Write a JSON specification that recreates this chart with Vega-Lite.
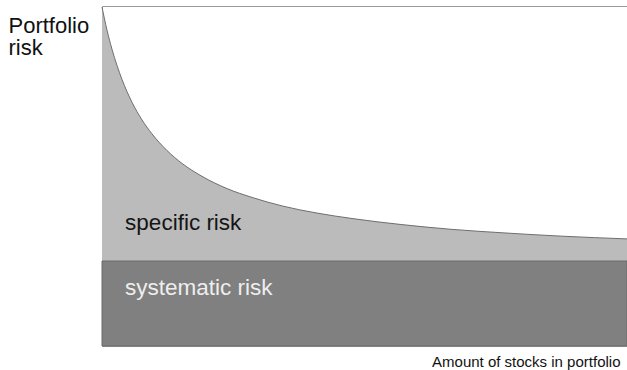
{
  "$schema": "https://vega.github.io/schema/vega-lite/v6.json",
  "width": 525,
  "height": 340,
  "autosize": {"type": "none"},
  "padding": {"left": 102, "top": 6, "right": 0, "bottom": 24},
  "background": "white",
  "config": {
    "view": {"stroke": "#9a9a9a", "strokeWidth": 1},
    "font": "Liberation Sans"
  },
  "datasets": {
    "curve": [
      {"n": 0, "risk": 99.7},
      {"n": 0.95, "risk": 92.9},
      {"n": 1.9, "risk": 87.3},
      {"n": 2.86, "risk": 82.5},
      {"n": 3.81, "risk": 78.4},
      {"n": 5.71, "risk": 71.7},
      {"n": 7.62, "risk": 66.5},
      {"n": 9.52, "risk": 62.4},
      {"n": 12.38, "risk": 57.5},
      {"n": 15.24, "risk": 53.7},
      {"n": 19.05, "risk": 49.9},
      {"n": 23.81, "risk": 46.3},
      {"n": 28.57, "risk": 43.7},
      {"n": 34.29, "risk": 41.2},
      {"n": 40.95, "risk": 39.1},
      {"n": 47.62, "risk": 37.5},
      {"n": 57.14, "risk": 35.7},
      {"n": 66.67, "risk": 34.3},
      {"n": 76.19, "risk": 33.3},
      {"n": 87.62, "risk": 32.3},
      {"n": 100, "risk": 31.5}
    ],
    "bands": [
      {"n0": 0, "n1": 100, "r0": 0, "r1": 25}
    ],
    "labels": [
      {"label": "specific risk", "n": 4.4, "risk": 34.1, "kind": "specific"},
      {"label": "systematic risk", "n": 4.4, "risk": 15.0, "kind": "systematic"}
    ]
  },
  "layer": [
    {
      "data": {"name": "curve"},
      "mark": {"type": "area", "color": "#bbbbbb", "interpolate": "monotone"},
      "encoding": {
        "x": {
          "field": "n", "type": "quantitative",
          "scale": {"domain": [0, 100], "nice": false, "zero": false},
          "axis": {
            "domain": false, "ticks": false, "labels": false, "grid": false,
            "title": "Amount of stocks in portfolio",
            "titleFontSize": 15, "titleFontWeight": "normal", "titleColor": "#111111",
            "titleFont": "Liberation Sans",
            "titleAlign": "right", "titleBaseline": "alphabetic",
            "titleX": 518, "titleY": 20
          }
        },
        "y": {
          "field": "risk", "type": "quantitative",
          "scale": {"domain": [0, 100], "nice": false},
          "axis": {
            "domain": false, "ticks": false, "labels": false, "grid": false,
            "title": ["Portfolio", "risk"],
            "titleAngle": 0, "titleFontSize": 22, "titleFontWeight": "normal",
            "titleColor": "#111111", "titleFont": "Liberation Sans",
            "titleAlign": "left", "titleBaseline": "alphabetic",
            "titleLineHeight": 22,
            "titleX": -94, "titleY": 26
          }
        },
        "y2": {"datum": 0}
      }
    },
    {
      "data": {"name": "curve"},
      "mark": {"type": "line", "color": "#6e6e6e", "strokeWidth": 1, "interpolate": "monotone"},
      "encoding": {
        "x": {"field": "n", "type": "quantitative"},
        "y": {"field": "risk", "type": "quantitative"}
      }
    },
    {
      "data": {"name": "bands"},
      "mark": {"type": "rect", "color": "#808080", "stroke": "#6a6a6a", "strokeWidth": 1},
      "encoding": {
        "x": {"field": "n0", "type": "quantitative"},
        "x2": {"field": "n1"},
        "y": {"field": "r0", "type": "quantitative"},
        "y2": {"field": "r1"}
      }
    },
    {
      "data": {"name": "labels"},
      "mark": {"type": "text", "align": "left", "baseline": "alphabetic", "fontSize": 22.5, "font": "Liberation Sans"},
      "encoding": {
        "x": {"field": "n", "type": "quantitative"},
        "y": {"field": "risk", "type": "quantitative"},
        "text": {"field": "label"},
        "color": {
          "field": "kind", "type": "nominal",
          "scale": {"domain": ["specific", "systematic"], "range": ["#151515", "#eeeeee"]},
          "legend": null
        }
      }
    }
  ]
}
